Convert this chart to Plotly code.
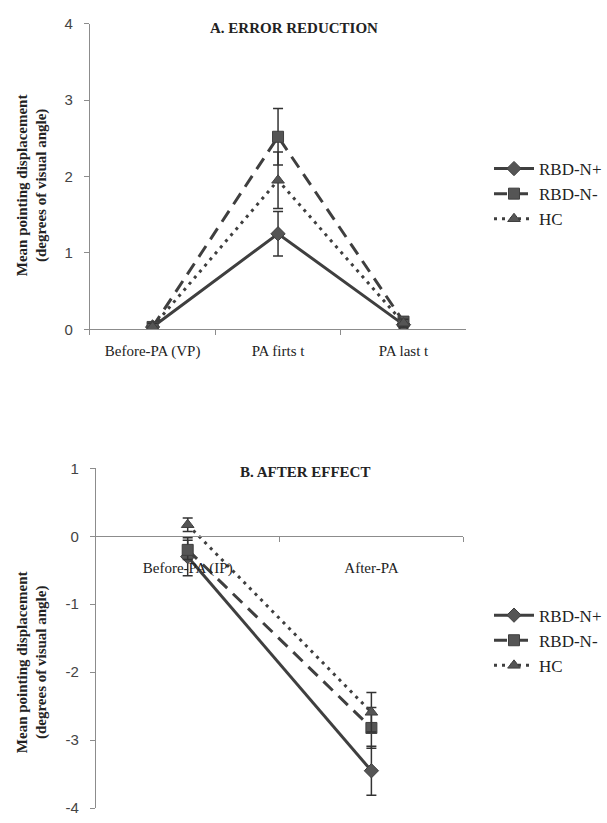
import plotly.graph_objects as go

# Panel A: error reduction
cats_a = ["Before-PA (VP)", "PA firts t", "PA last t"]
a_n_plus = [0.03, 1.25, 0.06]
a_n_plus_err = [0.05, 0.29, 0.05]
a_n_minus = [0.03, 2.52, 0.10]
a_n_minus_err = [0.05, 0.37, 0.05]
a_hc = [0.03, 1.95, 0.08]
a_hc_err = [0.05, 0.37, 0.05]
ticks_a = [0, 1, 2, 3, 4]
ticklabels_a = ["0", "1", "2", "3", "4"]

# Panel B: after effect
cats_b = ["Before-PA (IP)", "After-PA"]
b_n_plus = [-0.30, -3.45]
b_n_plus_err = [0.28, 0.36]
b_n_minus = [-0.20, -2.82]
b_n_minus_err = [0.14, 0.30]
b_hc = [0.17, -2.59]
b_hc_err = [0.10, 0.29]
ticks_b = [1, 0, -1, -2, -3, -4]
ticklabels_b = ["1", "0", "-1", "-2", "-3", "-4"]

series_names = ["RBD-N+", "RBD-N-", "HC"]

W, H = 607, 823
LINE = "#3f3f3f"
MARK = "#555555"
AX = "#8c8c8c"
SERIF = "Liberation Serif, Times New Roman, serif"
SANS = "Liberation Sans, Arial, sans-serif"

styles = [
    dict(dash="solid", symbol="diamond", size=11),
    dict(dash="13px,8px", symbol="square", size=11),
    dict(dash="3px,5px", symbol="triangle-up", size=11),
]

fig = go.Figure()

def add_series(xcats, ys, errs, name, st, xa, ya, legend):
    fig.add_trace(go.Scatter(
        x=xcats, y=ys, name=name, mode="lines+markers",
        line=dict(color=LINE, width=3, dash=st["dash"]),
        marker=dict(symbol=st["symbol"], size=st["size"], color=MARK,
                    line=dict(color=LINE, width=1)),
        error_y=dict(type="data", array=errs, visible=True, color="#333333",
                     thickness=1.5, width=5),
        xaxis=xa, yaxis=ya, legend=legend,
    ))

for nm, ys, es, st in zip(series_names,
                          [a_n_plus, a_n_minus, a_hc],
                          [a_n_plus_err, a_n_minus_err, a_hc_err], styles):
    add_series(cats_a, ys, es, nm, st, "x", "y", "legend")

for nm, ys, es, st in zip(series_names,
                          [b_n_plus, b_n_minus, b_hc],
                          [b_n_plus_err, b_n_minus_err, b_hc_err], styles):
    add_series(cats_b, ys, es, nm, st, "x2", "y2", "legend2")

def px_x(p):
    return p / W

def px_y(p):
    return 1 - p / H

tickfont_cat = dict(family=SERIF, size=15, color="#222222")
tickfont_num = dict(family=SANS, size=15, color="#444444")

legend_common = dict(
    font=dict(family=SERIF, size=17, color="#222222"),
    bgcolor="rgba(0,0,0,0)", itemwidth=40, tracegroupgap=2,
    xanchor="left", yanchor="top",
)

fig.update_layout(
    width=W, height=H, margin=dict(l=0, r=0, t=0, b=0),
    paper_bgcolor="white", plot_bgcolor="white",
    xaxis=dict(domain=[px_x(90), px_x(467)], type="category",
               range=[-0.5, 2.5], showline=True, linecolor=AX, linewidth=1,
               ticks="outside", tickson="boundaries", ticklen=5, tickcolor=AX,
               tickfont=tickfont_cat, showgrid=False, anchor="y",
               ticklabelstandoff=8),
    yaxis=dict(domain=[px_y(327), px_y(15)], range=[0, 4],
               tickvals=ticks_a, ticktext=ticklabels_a,
               showline=True, linecolor=AX, linewidth=1, ticks="outside",
               ticklen=5, tickcolor=AX, tickfont=tickfont_num,
               showgrid=False, zeroline=False, anchor="x",
               ticklabelstandoff=8),
    xaxis2=dict(domain=[px_x(96), px_x(464)], type="category",
                range=[-0.5, 1.5], showline=True, linecolor=AX, linewidth=1,
                ticks="outside", tickson="boundaries", ticklen=5, tickcolor=AX,
                tickfont=tickfont_cat, showgrid=False, anchor="free",
                position=px_y(538), ticklabelstandoff=18),
    yaxis2=dict(domain=[px_y(816), px_y(469)], range=[-4, 1],
                tickvals=ticks_b, ticktext=ticklabels_b,
                showline=True, linecolor=AX, linewidth=1, ticks="outside",
                ticklen=5, tickcolor=AX, tickfont=tickfont_num,
                showgrid=False, zeroline=False, anchor="x2",
                ticklabelstandoff=8),
    legend=dict(x=px_x(490), y=px_y(145), **legend_common),
    legend2=dict(x=px_x(490), y=px_y(601), **legend_common),
    showlegend=True,
)

title_font = dict(family=SERIF, size=15, color="#222222")
ytitle_font = dict(family=SERIF, size=15, color="#222222")
annos = [
    dict(text="<b>A. ERROR REDUCTION</b>", x=px_x(294), y=px_y(19),
         xref="paper", yref="paper", showarrow=False, font=title_font,
         xanchor="center", yanchor="middle"),
    dict(text="<b>B. AFTER EFFECT</b>", x=px_x(306), y=px_y(473),
         xref="paper", yref="paper", showarrow=False, font=title_font,
         xanchor="center", yanchor="middle"),
    dict(text="<b>Mean pointing displacement<br>(degrees of visual angle)</b>",
         x=px_x(32), y=px_y(180), xref="paper", yref="paper",
         xanchor="center", yanchor="middle",
         showarrow=False, textangle=-90, font=ytitle_font),
    dict(text="<b>Mean pointing displacement<br>(degrees of visual angle)</b>",
         x=px_x(32), y=px_y(667), xref="paper", yref="paper",
         xanchor="center", yanchor="middle",
         showarrow=False, textangle=-90, font=ytitle_font),
]
fig.update_layout(annotations=annos)

fig.write_html("out.html")
